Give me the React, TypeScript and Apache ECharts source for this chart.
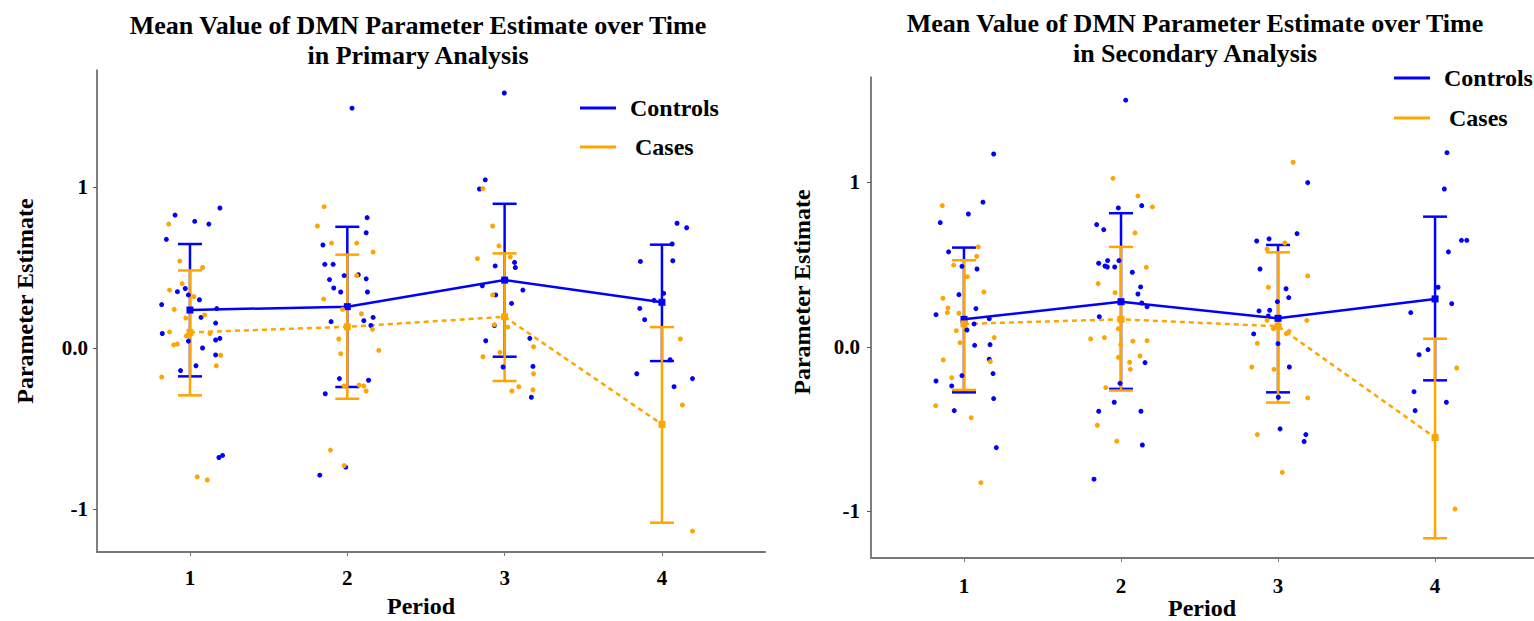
import React, { useEffect, useRef } from "react";
import * as echarts from "echarts";

const FONT = '"Liberation Serif", "Times New Roman", Times, serif';
const BLUE = "#0000FF";
const ORANGE = "#FFA500";

const periods = [1, 2, 3, 4];
const periodTicks = [1, 2, 3, 4];
const estimateTicks = [-1, 0, 1];

// Primary analysis: group means and error bar limits
const primaryControlsMean = [0.236, 0.257, 0.422, 0.284];
const primaryControlsLow = [-0.176, -0.242, -0.054, -0.081];
const primaryControlsHigh = [0.646, 0.753, 0.896, 0.642];
const primaryCasesMean = [0.097, 0.132, 0.194, -0.474];
const primaryCasesLow = [-0.294, -0.315, -0.205, -1.085];
const primaryCasesHigh = [0.482, 0.58, 0.588, 0.13];

// Secondary analysis: group means and error bar limits
const secondaryControlsMean = [0.168, 0.275, 0.174, 0.292];
const secondaryControlsLow = [-0.276, -0.255, -0.276, -0.203];
const secondaryControlsHigh = [0.604, 0.813, 0.62, 0.792];
const secondaryCasesMean = [0.14, 0.168, 0.126, -0.551];
const secondaryCasesLow = [-0.261, -0.265, -0.338, -1.163];
const secondaryCasesHigh = [0.527, 0.608, 0.575, 0.05];

// Individual (jittered) observations [period, estimate]
const primaryControlsPoints = [
  [0.905, 0.826], [0.85, 0.675], [1.03, 0.787], [1.12, 0.77], [1.19, 0.87], [0.92, 0.35], [0.97, 0.37],
  [0.99, 0.33], [1.06, 0.3], [0.82, 0.27], [1.17, 0.245], [0.824, 0.09], [1.07, 0.19], [1.163, 0.155],
  [0.99, 0.043], [1.163, 0.05], [1.19, 0.06], [1.08, 0.0], [1.163, -0.043], [0.94, -0.14], [1.038, -0.11],
  [1.184, -0.68], [1.207, -0.667],
  [2.03, 1.49], [2.126, 0.81], [2.12, 0.716], [1.845, 0.64], [1.857, 0.52], [1.91, 0.52], [1.887, 0.425],
  [1.98, 0.45], [2.07, 0.455], [2.12, 0.43], [1.914, 0.373], [1.958, 0.348], [2.128, 0.348], [2.164, 0.19],
  [2.105, 0.17], [2.15, 0.14], [1.897, 0.164], [1.95, -0.19], [2.135, -0.2], [1.86, -0.284], [1.825, -0.79],
  [1.99, -0.74],
  [2.998, 1.584], [2.877, 1.045], [2.84, 0.988], [3.063, 0.532], [3.068, 0.5], [2.94, 0.51], [2.858, 0.387],
  [3.116, 0.36], [2.943, 0.33], [3.044, 0.277], [2.935, 0.14], [2.88, 0.045], [3.16, 0.06], [2.99, -0.118],
  [3.18, -0.114], [3.17, -0.306],
  [4.096, 0.775], [4.157, 0.747], [3.863, 0.538], [4.069, 0.542], [4.065, 0.646], [4.011, 0.34], [3.95, 0.296],
  [3.859, 0.246], [3.89, 0.176], [4.052, -0.073], [3.84, -0.16], [4.194, -0.19], [4.077, -0.24],
];
const primaryCasesPoints = [
  [0.865, 0.77], [0.935, 0.54], [1.08, 0.5], [0.95, 0.4], [0.87, 0.36], [1.025, 0.32], [0.9, 0.24],
  [0.973, 0.186], [1.093, 0.205], [0.87, 0.1], [0.977, 0.075], [1.127, 0.09], [0.896, 0.02], [0.92, 0.025],
  [1.195, -0.045], [1.167, -0.11], [0.82, -0.18], [1.046, -0.8], [1.11, -0.82],
  [1.853, 0.878], [1.81, 0.758], [1.9, 0.652], [2.06, 0.652], [2.164, 0.596], [2.06, 0.45], [1.85, 0.304],
  [1.97, 0.24], [2.09, 0.213], [2.16, 0.116], [1.946, 0.056], [1.958, -0.035], [2.2, -0.015], [2.075, -0.23],
  [2.105, -0.236], [2.12, -0.267], [1.98, -0.236], [1.893, -0.634], [1.98, -0.73],
  [2.862, 0.99], [2.924, 0.758], [2.964, 0.635], [2.827, 0.555], [3.036, 0.565], [2.924, 0.33], [2.935, 0.145],
  [3.02, 0.13], [3.184, 0.008], [2.97, -0.027], [2.862, -0.054], [3.184, -0.16], [3.09, -0.24], [3.046, -0.267],
  [3.18, -0.26],
  [4.117, 0.056], [4.13, -0.354], [4.194, -1.137],
];
const secondaryControlsPoints = [
  [1.189, 1.173], [1.121, 0.88], [1.028, 0.808], [0.849, 0.756], [0.902, 0.578], [0.987, 0.49], [1.083, 0.474],
  [0.968, 0.318], [1.076, 0.233], [0.822, 0.196], [1.161, 0.172], [1.064, 0.14], [1.019, 0.103], [1.068, 0.01],
  [1.166, 0.014], [1.161, -0.075], [0.822, -0.207], [0.987, -0.174], [0.922, -0.237], [1.185, -0.162],
  [1.189, -0.314], [0.938, -0.387], [1.206, -0.612],
  [2.03, 1.5], [1.983, 0.845], [2.132, 0.859], [1.845, 0.744], [1.89, 0.713], [1.858, 0.509], [1.915, 0.525],
  [1.898, 0.492], [1.913, 0.486], [1.96, 0.486], [1.987, 0.525], [2.072, 0.454], [2.125, 0.365], [2.108, 0.322],
  [2.132, 0.267], [2.166, 0.245], [1.862, 0.184], [2.153, -0.095], [1.994, -0.221], [1.957, -0.336],
  [1.858, -0.391], [2.127, -0.391], [2.136, -0.596], [1.828, -0.804],
  [2.864, 0.644], [2.943, 0.657], [3.121, 0.689], [2.885, 0.474], [3.051, 0.354], [3.068, 0.3], [2.996, 0.275],
  [2.879, 0.219], [2.947, 0.223], [3.189, 0.999], [2.938, 0.188], [2.845, 0.079], [3.0, 0.02], [3.072, -0.122],
  [3.002, -0.306], [3.013, -0.498], [3.177, -0.533], [3.166, -0.575],
  [4.076, 1.181], [4.059, 0.96], [4.168, 0.648], [4.202, 0.648], [4.085, 0.578], [4.019, 0.363], [4.106, 0.263],
  [3.845, 0.209], [3.955, -0.016], [3.898, -0.047], [4.072, -0.336], [3.866, -0.272], [3.873, -0.387],
];
const secondaryCasesPoints = [
  [0.862, 0.859], [1.091, 0.608], [1.081, 0.551], [0.934, 0.497], [1.021, 0.427], [1.127, 0.334], [0.866, 0.296],
  [0.898, 0.237], [0.894, 0.209], [0.968, 0.205], [0.951, 0.099], [1.193, 0.057], [0.975, 0.026], [0.868, -0.079],
  [1.168, -0.089], [0.922, -0.187], [0.82, -0.357], [1.046, -0.43], [1.108, -0.825],
  [1.949, 1.025], [2.108, 0.918], [2.2, 0.851], [2.089, 0.693], [2.161, 0.484], [1.854, 0.385], [1.962, 0.33],
  [1.807, 0.049], [1.894, 0.057], [1.983, 0.111], [2.076, 0.035], [2.166, 0.038], [1.998, 0.014], [1.983, -0.063],
  [2.055, -0.093], [2.121, -0.055], [2.059, -0.136], [1.903, -0.247], [1.849, -0.476], [1.973, -0.573],
  [3.096, 1.123], [3.043, 0.632], [2.93, 0.594], [3.189, 0.432], [2.938, 0.363], [2.93, 0.162], [3.183, 0.162],
  [2.97, 0.111], [3.053, 0.081], [3.07, 0.095], [2.868, 0.022], [2.833, -0.122], [2.975, -0.136], [3.189, -0.31],
  [2.868, -0.533], [3.027, -0.762],
  [4.138, -0.128], [4.127, -0.985],
];

const CAP = 12;

function errorBarSeries(name: string, idx: number, low: number[], high: number[], color: string, z: number) {
  return {
    type: "custom",
    name,
    xAxisIndex: idx,
    yAxisIndex: idx,
    z,
    silent: true,
    clip: false,
    encode: { x: 0, y: [1, 2] },
    data: periods.map((p, i) => [p, low[i], high[i]]),
    renderItem: (params: any, api: any) => {
      const x = api.value(0);
      const lo = api.coord([x, api.value(1)]);
      const hi = api.coord([x, api.value(2)]);
      const style = { stroke: color, lineWidth: 2.5 };
      return {
        type: "group",
        children: [
          { type: "line", shape: { x1: lo[0], y1: lo[1], x2: hi[0], y2: hi[1] }, style },
          { type: "line", shape: { x1: hi[0] - CAP, y1: hi[1], x2: hi[0] + CAP, y2: hi[1] }, style },
          { type: "line", shape: { x1: lo[0] - CAP, y1: lo[1], x2: lo[0] + CAP, y2: lo[1] }, style },
        ],
      };
    },
  };
}

function meanSeries(name: string, idx: number, mean: number[], color: string, dashed: boolean, z: number) {
  return {
    type: "line",
    name,
    xAxisIndex: idx,
    yAxisIndex: idx,
    z,
    silent: true,
    data: periods.map((p, i) => [p, mean[i]]),
    symbol: "rect",
    symbolSize: 7,
    itemStyle: { color, opacity: 1 },
    lineStyle: { color, width: 2.5, type: dashed ? [5, 4] : "solid" },
  };
}

function pointSeries(name: string, idx: number, pts: number[][], color: string) {
  return {
    type: "scatter",
    name,
    xAxisIndex: idx,
    yAxisIndex: idx,
    z: 6,
    silent: true,
    symbolSize: 5,
    itemStyle: { color, opacity: 1 },
    data: pts,
  };
}

function xAxis(idx: number, min: number, max: number, margin: number) {
  return {
    type: "value",
    gridIndex: idx,
    min,
    max,
    splitLine: { show: false },
    axisLine: { show: true, onZero: false, lineStyle: { color: "#777", width: 2 } },
    axisTick: { show: true, customValues: periodTicks, length: 4, lineStyle: { color: "#777" } },
    axisLabel: {
      customValues: periodTicks,
      margin,
      fontFamily: FONT,
      fontSize: 21,
      fontWeight: "bold",
      color: "#000",
    },
  };
}

function yAxis(idx: number, min: number, max: number, margin: number) {
  return {
    type: "value",
    gridIndex: idx,
    min,
    max,
    splitLine: { show: false },
    axisLine: { show: true, onZero: false, lineStyle: { color: "#555", width: 1.5 } },
    axisTick: { show: true, customValues: estimateTicks, length: 4, lineStyle: { color: "#555" } },
    axisLabel: {
      customValues: estimateTicks,
      margin,
      fontFamily: FONT,
      fontSize: 21,
      fontWeight: "bold",
      color: "#000",
      formatter: (v: number) => (v === 0 ? "0.0" : String(v)),
    },
  };
}

const legendText = { fontFamily: FONT, fontSize: 24, fontWeight: "bold", color: "#000", lineHeight: 24 };

function legend(left: number, top: number, gap: number) {
  return {
    left,
    top,
    orient: "vertical",
    itemWidth: 36,
    itemHeight: 3,
    itemGap: gap,
    selectedMode: false,
    textStyle: legendText,
    data: [
      { name: "Controls", icon: "rect", textStyle: { padding: [0, 0, 0, 9] } },
      { name: "Cases", icon: "rect", textStyle: { padding: [0, 0, 0, 14] } },
    ],
  };
}

const nameStyle = { fontFamily: FONT, fontSize: 24, fontWeight: "bold", fill: "#000" };
const titleStyle = { fontFamily: FONT, fontSize: 26, fontWeight: "bold", color: "#000", lineHeight: 30 };

export default function App() {
  const ref = useRef<HTMLDivElement>(null);
  useEffect(() => {
    if (!ref.current) return;
    const chart = echarts.init(ref.current, undefined, { renderer: "svg" });
    chart.setOption({
      animation: false,
      backgroundColor: "#fff",
      title: [
        {
          text: "Mean Value of DMN Parameter Estimate over Time\nin Primary Analysis",
          left: 413,
          top: 5,
          textAlign: "center",
          textStyle: titleStyle,
        },
        {
          text: "Mean Value of DMN Parameter Estimate over Time\nin Secondary Analysis",
          left: 1190,
          top: 3,
          textAlign: "center",
          textStyle: titleStyle,
        },
      ],
      legend: [legend(575, 91, 15), legend(1389, 61, 16)],
      grid: [
        { left: 97, top: 70, width: 668, height: 482 },
        { left: 871, top: 77, width: 663, height: 481 },
      ],
      xAxis: [xAxis(0, 0.409, 4.655, 15), xAxis(1, 0.408, 4.63, 17)],
      yAxis: [yAxis(0, -1.267, 1.727, 9), yAxis(1, -1.283, 1.641, 11)],
      graphic: [
        { type: "text", x: 25, y: 301, rotation: Math.PI / 2, style: { ...nameStyle, text: "Parameter Estimate", textAlign: "center", textVerticalAlign: "middle" } },
        { type: "text", x: 802, y: 292, rotation: Math.PI / 2, style: { ...nameStyle, text: "Parameter Estimate", textAlign: "center", textVerticalAlign: "middle" } },
        { type: "text", x: 421, y: 606, style: { ...nameStyle, text: "Period", textAlign: "center", textVerticalAlign: "middle" } },
        { type: "text", x: 1202, y: 608, style: { ...nameStyle, text: "Period", textAlign: "center", textVerticalAlign: "middle" } },
      ],
      series: [
        errorBarSeries("Controls error bars (primary)", 0, primaryControlsLow, primaryControlsHigh, BLUE, 2),
        errorBarSeries("Cases error bars (primary)", 0, primaryCasesLow, primaryCasesHigh, ORANGE, 3),
        meanSeries("Controls", 0, primaryControlsMean, BLUE, false, 4),
        meanSeries("Cases", 0, primaryCasesMean, ORANGE, true, 5),
        pointSeries("Controls points (primary)", 0, primaryControlsPoints, BLUE),
        pointSeries("Cases points (primary)", 0, primaryCasesPoints, ORANGE),
        errorBarSeries("Controls error bars (secondary)", 1, secondaryControlsLow, secondaryControlsHigh, BLUE, 2),
        errorBarSeries("Cases error bars (secondary)", 1, secondaryCasesLow, secondaryCasesHigh, ORANGE, 3),
        meanSeries("Controls", 1, secondaryControlsMean, BLUE, false, 4),
        meanSeries("Cases", 1, secondaryCasesMean, ORANGE, true, 5),
        pointSeries("Controls points (secondary)", 1, secondaryControlsPoints, BLUE),
        pointSeries("Cases points (secondary)", 1, secondaryCasesPoints, ORANGE),
      ],
    });
    return () => chart.dispose();
  }, []);
  return <div ref={ref} style={{ position: "fixed", left: 0, top: 0, width: 1534, height: 621 }} />;
}
